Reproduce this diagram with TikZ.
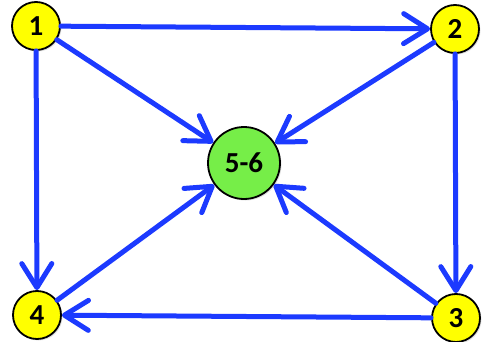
\documentclass[tikz,border=0pt]{standalone}
\usepackage{fontspec}
\setmainfont{Carlito}
\usetikzlibrary{arrows.meta,shadows}

\definecolor{arcblue}{RGB}{28,58,255}
\definecolor{nodeyellow}{RGB}{255,255,0}
\definecolor{nodegreen}{RGB}{118,238,72}

\tikzset{
  vertex/.style={circle, draw=black, line width=1.8pt, fill=nodeyellow,
    minimum size=48pt, inner sep=0pt, font=\fontsize{29}{29}\selectfont\bfseries,
    drop shadow={opacity=0.25, shadow xshift=1.5pt, shadow yshift=-1.5pt}},
  bigvertex/.style={vertex, fill=nodegreen, minimum size=72pt},
  arc/.style={draw=arcblue, line width=5pt, line cap=round,
    -{Straight Barb[length=24pt, width=30pt, round]}}
}

\begin{document}
\begin{tikzpicture}[x=1pt, y=1pt]
    \useasboundingbox (0,0) rectangle (488,341);

    % Vertices
    \node[vertex] (v1) at (36,315) {1};
    \node[vertex] (v2) at (455,312) {2};
    \node[vertex] (v3) at (456,23) {3};
    \node[vertex] (v4) at (37,26) {4};
    \node[bigvertex] (v56) at (244,178) {5-6};

    % Arcs
    \draw[arc] (v1) -- (v2);
    \draw[arc] (v1) -- (v4);
    \draw[arc] (v1) -- (v56);
    \draw[arc] (v2) -- (v56);
    \draw[arc] (v2) -- (v3);
    \draw[arc] (v3) -- (v56);
    \draw[arc] (v3) -- (v4);
    \draw[arc] (v4) -- (v56);
\end{tikzpicture}
\end{document}
